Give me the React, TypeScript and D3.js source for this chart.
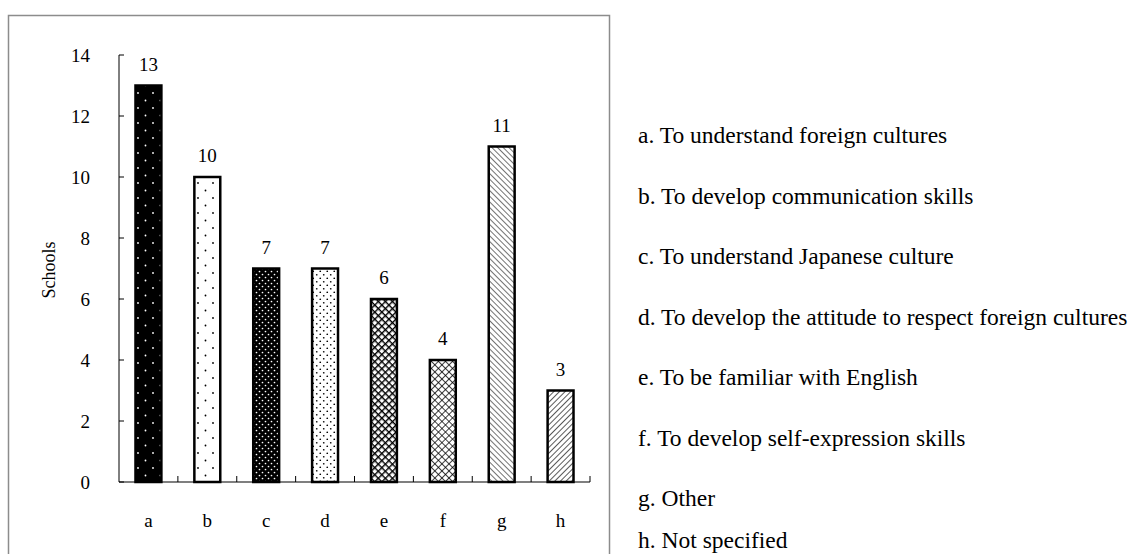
import React from "react";
import * as d3 from "d3";

const categories = ["a", "b", "c", "d", "e", "f", "g", "h"];
const values = [13, 10, 7, 7, 6, 4, 11, 3];
const yTicks = [0, 2, 4, 6, 8, 10, 12, 14];
const legendLabels = [
  "a. To understand foreign cultures",
  "b. To develop communication skills",
  "c. To understand Japanese culture",
  "d. To develop the attitude to respect foreign cultures",
  "e. To be familiar with English",
  "f. To develop self-expression skills",
  "g. Other",
  "h. Not specified",
];
const patternIds = ["pA", "pB", "pC", "pD", "pE", "pF", "pG", "pH"];

const FONT = '"Liberation Serif", "Times New Roman", Times, serif';

export default function App() {
  const x0 = 119, x1 = 590, yTop = 55, yBot = 482;
  const x = d3.scaleBand<string>().domain(categories).range([x0, x1]).paddingInner(0.56).paddingOuter(0.28);
  const y = d3.scaleLinear().domain([0, 14]).range([yBot, yTop]);
  const step = x.step();
  const legendY = d3.scalePoint<string>().domain(categories.slice(0, 7)).range([143, 506]);

  return (
    <svg width={1138} height={554} style={{ position: "absolute", left: 0, top: 0, background: "#fff", fontFamily: FONT }}>
      <defs>
        <pattern id="pA" width={15} height={15} patternUnits="userSpaceOnUse">
          <rect width={15} height={15} fill="#000" />
          <circle cx={3} cy={3} r={0.9} fill="#fff" />
          <circle cx={10.5} cy={10.5} r={0.9} fill="#fff" />
        </pattern>
        <pattern id="pB" width={15} height={15} patternUnits="userSpaceOnUse">
          <rect width={15} height={15} fill="#fff" />
          <circle cx={3} cy={3} r={0.9} fill="#000" />
          <circle cx={10.5} cy={10.5} r={0.9} fill="#000" />
        </pattern>
        <pattern id="pC" width={6} height={6} patternUnits="userSpaceOnUse">
          <rect width={6} height={6} fill="#000" />
          <circle cx={1.5} cy={1.5} r={0.85} fill="#fff" />
          <circle cx={4.5} cy={4.5} r={0.85} fill="#fff" />
        </pattern>
        <pattern id="pD" width={7} height={7} patternUnits="userSpaceOnUse">
          <rect width={7} height={7} fill="#fff" />
          <circle cx={1.75} cy={1.75} r={0.85} fill="#000" />
          <circle cx={5.25} cy={5.25} r={0.85} fill="#000" />
        </pattern>
        <pattern id="pE" width={5} height={5} patternUnits="userSpaceOnUse" patternTransform="rotate(45)">
          <rect width={5} height={5} fill="#fff" />
          <line x1={0} y1={0} x2={5} y2={0} stroke="#000" strokeWidth={2.8} />
          <line x1={0} y1={0} x2={0} y2={5} stroke="#000" strokeWidth={2.8} />
        </pattern>
        <pattern id="pF" width={5} height={5} patternUnits="userSpaceOnUse" patternTransform="rotate(45)">
          <rect width={5} height={5} fill="#fff" />
          <line x1={0} y1={0} x2={5} y2={0} stroke="#000" strokeWidth={1.5} />
          <line x1={0} y1={0} x2={0} y2={5} stroke="#000" strokeWidth={1.5} />
        </pattern>
        <pattern id="pG" width={4} height={4} patternUnits="userSpaceOnUse" patternTransform="rotate(45)">
          <rect width={4} height={4} fill="#fff" />
          <line x1={0} y1={0} x2={4} y2={0} stroke="#000" strokeWidth={1.1} />
        </pattern>
        <pattern id="pH" width={4} height={4} patternUnits="userSpaceOnUse" patternTransform="rotate(-45)">
          <rect width={4} height={4} fill="#fff" />
          <line x1={0} y1={0} x2={4} y2={0} stroke="#000" strokeWidth={1.3} />
        </pattern>
      </defs>

      <rect x={8.5} y={15.5} width={601} height={560} fill="none" stroke="#8c8c8c" strokeWidth={1.5} />

      {/* Y axis */}
      <line x1={x0} x2={x0} y1={yTop} y2={yBot} stroke="#000" strokeWidth={1} />
      {yTicks.map((t) => (
        <g key={t}>
          <line x1={x0} x2={x0 + 5} y1={y(t)} y2={y(t)} stroke="#000" strokeWidth={1} />
          <text x={90} y={y(t)} dy="0.35em" textAnchor="end" fontSize={19} fill="#000">
            {t}
          </text>
        </g>
      ))}
      <text transform={`translate(49,270) rotate(-90)`} textAnchor="middle" dy="0.35em" fontSize={18} fill="#000">
        Schools
      </text>

      {/* bars */}
      {categories.map((c, i) => (
        <g key={c}>
          <rect
            x={x(c)!}
            y={y(values[i])}
            width={x.bandwidth()}
            height={yBot - y(values[i])}
            fill={`url(#${patternIds[i]})`}
            stroke="#000"
            strokeWidth={2.5}
          />
          <text x={x(c)! + x.bandwidth() / 2} y={y(values[i]) - 15} textAnchor="middle" fontSize={19} fill="#000">
            {values[i]}
          </text>
          <text x={x(c)! + x.bandwidth() / 2} y={527} textAnchor="middle" fontSize={19} fill="#000">
            {c}
          </text>
        </g>
      ))}

      {/* X axis */}
      <line x1={x0} x2={x1} y1={yBot} y2={yBot} stroke="#000" strokeWidth={1.2} />
      {categories.map((c, i) => (
        <line key={c} x1={x0 + (i + 1) * step} x2={x0 + (i + 1) * step} y1={yBot} y2={yBot - 6} stroke="#000" strokeWidth={1} />
      ))}

      {/* legend */}
      {legendLabels.map((l, i) => (
        <text key={l} x={638} y={i < 7 ? legendY(categories[i])! : 548} fontSize={23.5} fill="#000">
          {l}
        </text>
      ))}
    </svg>
  );
}
